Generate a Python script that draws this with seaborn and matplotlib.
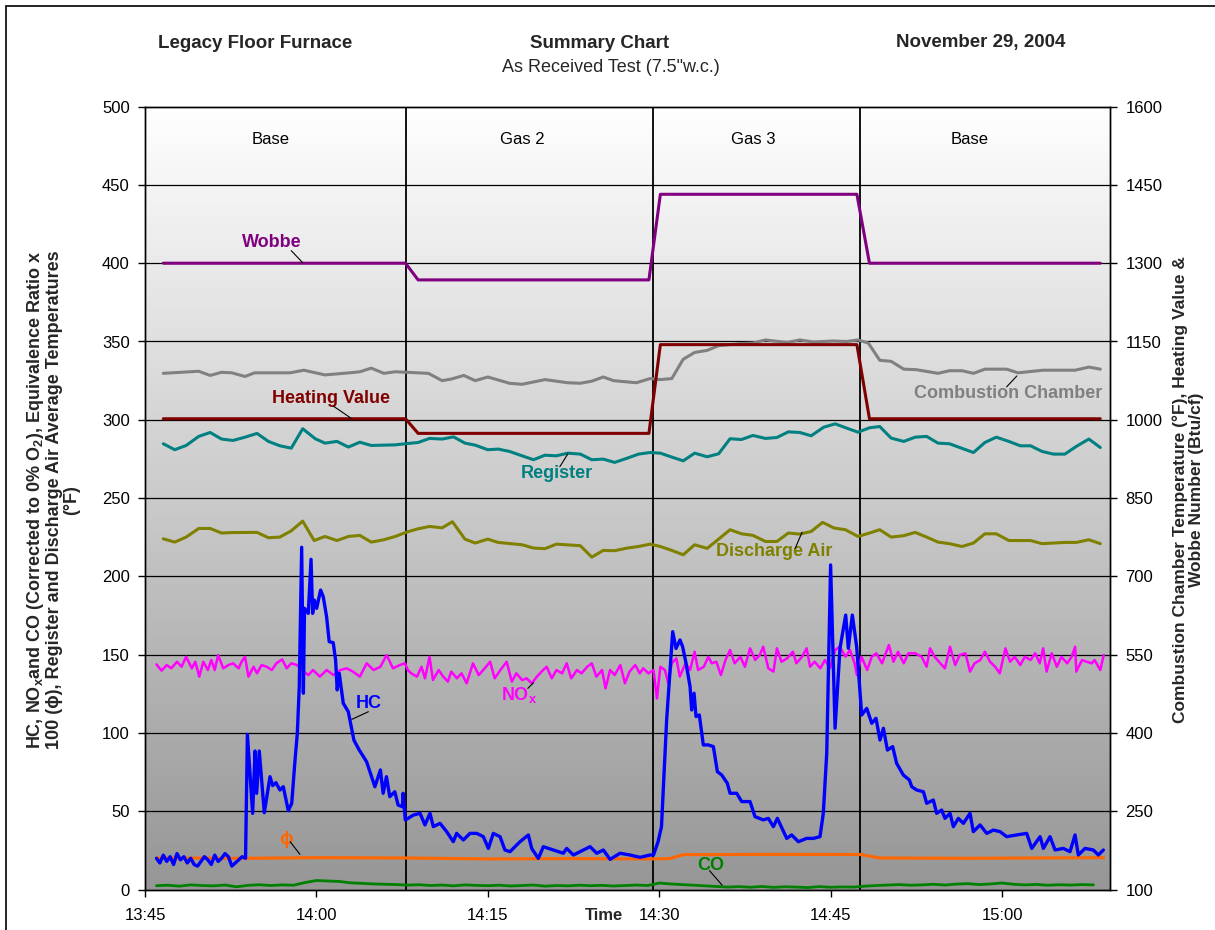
import numpy as np
import pandas as pd
import matplotlib
matplotlib.use('Agg')
import matplotlib.pyplot as plt
from matplotlib.colors import LinearSegmentedColormap
from matplotlib.patches import Rectangle
import seaborn as sns

# time is minutes after 13:45
x_ticks = [0, 15, 30, 45, 60, 75]
x_ticklabels = ['13:45', '14:00', '14:15', '14:30', '14:45', '15:00']
t_end = 84.45
section_changes = [22.8, 44.5, 62.6]
section_names = ['Base', 'Gas 2', 'Gas 3', 'Base']
section_centers = [11.0, 33.0, 53.2, 72.2]

# right axis series (Btu/cf, degF)
step_t = [1.6, 22.8, 23.9, 44.1, 45.1, 62.3, 63.4, 83.6]
wobbe = [1300, 1300, 1268, 1268, 1432, 1432, 1300, 1300]
heating_value = [1002, 1002, 974, 974, 1144, 1144, 1002, 1002]

comb_t = [1.6, 4.7, 5.7, 6.7, 7.6, 8.75, 9.6, 12.7, 13.9, 15.75, 17.9, 18.8, 19.8, 20.9, 21.9,
          22.9, 24.8, 26.0, 26.8, 27.9, 28.9, 30.0, 31.9, 33.0, 35.0, 37.0, 38.1, 39.1, 40.1, 41.0,
          43.0, 44.2, 45.1, 46.1, 47.1, 48.1, 49.2, 50.2, 52.1, 53.2, 54.3, 56.2, 57.3, 58.5, 60.2,
          61.4, 62.4, 63.3, 64.3, 65.3, 66.4, 67.5, 69.4, 70.4, 71.5, 72.5, 73.5, 75.4, 76.4, 78.6,
          81.4, 82.6, 83.6]
combustion = [1089, 1093, 1085, 1091, 1090, 1083, 1090, 1090, 1095, 1086, 1090, 1092, 1099, 1089, 1092,
              1091, 1089, 1075, 1078, 1085, 1075, 1082, 1070, 1068, 1077, 1071, 1070, 1074, 1082, 1075,
              1071, 1079, 1077, 1079, 1116, 1129, 1133, 1142, 1146, 1147, 1153, 1148, 1153, 1149, 1151,
              1150, 1153, 1147, 1114, 1112, 1097, 1096, 1089, 1094, 1094, 1089, 1097, 1097, 1090, 1095,
              1095, 1101, 1097]

# left axis series
reg_t = [1.6, 2.6, 3.6, 4.7, 5.7, 6.7, 7.7, 8.75, 9.8, 10.8, 11.8, 12.8, 13.8, 14.9, 15.75,
         16.8, 17.8, 18.8, 19.8, 21.9, 22.9, 23.9, 24.9, 26.0, 27.0, 28.0, 28.9, 30.0, 30.9, 31.9,
         33.0, 34.0, 35.0, 36.0, 37.0, 38.1, 39.1, 40.1, 41.1, 42.2, 43.2, 44.2, 45.1, 46.1, 47.1,
         48.1, 49.2, 50.2, 51.2, 52.2, 53.2, 54.3, 55.3, 56.3, 57.3, 58.3, 59.4, 60.4, 61.4, 62.4,
         63.4, 64.3, 65.3, 66.4, 67.4, 68.4, 69.4, 70.4, 72.5, 73.5, 74.5, 75.6, 76.6, 77.5, 78.5,
         79.5, 80.5, 81.5, 82.6, 83.6]
register = [284.7, 280.9, 283.6, 289.4, 291.9, 287.7, 286.8, 288.9, 291.3, 286.2, 283.4, 281.9, 294.3, 287.9, 285.1,
            286.2, 282.6, 285.7, 283.6, 284.0, 284.8, 285.5, 288.1, 287.7, 289.1, 285.1, 283.8, 280.9, 281.3, 279.8,
            277.0, 274.5, 277.4, 277.0, 278.7, 278.1, 274.5, 274.9, 272.8, 275.5, 278.1, 279.1, 278.7, 276.2, 273.8,
            278.7, 276.4, 278.3, 287.9, 287.4, 290.0, 288.1, 288.7, 292.3, 291.9, 289.8, 295.3, 297.4, 294.7, 292.1,
            294.9, 295.7, 288.3, 286.2, 288.9, 289.4, 285.1, 284.7, 279.1, 285.5, 288.9, 286.2, 283.4, 283.4, 279.8,
            278.1, 278.1, 283.0, 287.7, 282.3]

dis_t = [1.6, 2.6, 3.6, 4.7, 5.7, 6.7, 7.7, 9.8, 10.8, 11.8, 12.8, 13.8, 14.8, 15.75, 16.8,
         17.8, 18.8, 19.8, 20.9, 21.9, 22.9, 23.9, 24.9, 26.0, 26.9, 28.0, 28.9, 30.0, 30.9, 33.0,
         34.0, 35.0, 36.0, 38.1, 39.1, 40.1, 41.1, 42.2, 43.2, 44.2, 45.1, 46.1, 47.1, 48.1, 49.2,
         50.2, 51.2, 52.2, 53.2, 54.3, 55.3, 56.3, 57.3, 58.3, 59.3, 60.3, 61.3, 62.4, 63.4, 64.3,
         65.3, 66.4, 67.4, 68.4, 69.4, 70.4, 71.5, 72.5, 73.5, 74.5, 75.6, 76.6, 77.5, 78.5, 80.5,
         81.5, 82.6, 83.6]
discharge = [224.0, 221.9, 225.1, 230.6, 230.6, 227.7, 228.0, 228.1, 224.7, 225.1, 229.1, 235.3, 222.9, 225.5, 222.9,
             225.5, 226.2, 221.9, 223.4, 225.5, 228.3, 230.4, 231.9, 231.0, 234.9, 223.8, 221.3, 223.8, 221.7, 220.2,
             218.1, 217.7, 220.6, 219.6, 212.3, 216.6, 216.4, 218.1, 219.1, 220.6, 219.1, 216.6, 213.8, 220.2, 217.9,
             223.8, 229.8, 227.2, 226.2, 222.3, 222.3, 227.7, 227.0, 228.7, 234.5, 230.9, 229.8, 225.5, 227.7, 229.8,
             225.1, 226.0, 228.1, 225.1, 221.9, 220.9, 219.1, 221.3, 227.2, 227.2, 222.9, 222.9, 222.9, 220.9, 221.7,
             221.7, 223.4, 220.9]

nox_t = [1.0, 1.45, 1.9, 2.3, 2.8, 3.2, 3.6, 4.1, 4.4, 4.75, 5.1, 5.5, 5.8, 6.1, 6.4, 6.85, 7.3, 7.7, 8.2, 8.45,
         8.75, 9.05, 9.5, 9.8, 10.2, 10.65, 11.1, 11.5, 12.0, 12.4, 12.8, 13.3, 13.9, 14.3, 14.7, 15.3, 15.9, 16.5,
         17.1, 17.65, 18.2, 18.8, 19.4, 20.0, 20.6, 21.15, 21.7, 22.3, 22.75,
         23.0, 23.3, 23.8, 24.2, 24.5, 24.9, 25.2, 25.7, 26.1, 26.5, 26.8, 27.3, 27.7, 28.15, 28.7, 29.2, 29.6,
         30.2, 30.6, 31.1, 31.65, 32.1, 32.5, 33.0, 33.4, 33.85, 34.3, 34.7, 35.15, 35.6, 36.0, 36.5, 36.9, 37.3,
         37.8, 38.2, 38.7, 39.1, 39.5, 40.0, 40.3, 40.7, 41.1, 41.6, 42.0, 42.4, 42.9, 43.3,
         43.6, 44.05, 44.5, 44.8, 45.1, 45.5, 45.8, 46.1, 46.5, 46.8, 47.3, 47.7, 48.1, 48.4, 48.9, 49.3, 49.6,
         50.0, 50.4, 50.8, 51.2, 51.6, 52.1, 52.5, 52.95, 53.4, 53.8, 54.1, 54.55, 55.0, 55.3, 55.7, 56.2, 56.7,
         57.0, 57.5, 57.9, 58.2, 58.6, 59.1, 59.5, 59.95, 60.4, 60.8, 61.3, 61.7, 62.1, 62.3, 62.7, 63.2, 63.6,
         64.0, 64.5, 65.1, 65.5, 65.9, 66.4, 66.8, 67.4, 67.97, 68.4, 68.7, 69.1, 69.6, 70.0, 70.45, 70.9, 71.3,
         71.8, 72.2, 72.6, 73.1, 73.5, 73.95, 74.4, 74.8, 75.3, 75.7, 76.1, 76.6, 77.0, 77.5, 77.9, 78.3, 78.6,
         78.9, 79.35, 79.8, 80.2, 80.7, 81.1, 81.4, 81.5, 82.0, 82.4, 82.85, 83.1, 83.6, 83.9]
nox = [143.8, 139.8, 143.4, 141.3, 145.5, 142.3, 148.7, 141.3, 145.5, 136.0, 145.5, 140.2, 146.6, 140.2, 149.8,
       141.3, 143.4, 144.5, 141.3, 145.5, 148.7, 136.0, 142.3, 138.1, 143.4, 142.3, 140.2, 144.5, 147.0, 141.3,
       144.5, 143.4, 139.2, 137.0, 140.2, 136.0, 140.2, 137.0, 140.2, 141.3, 139.2, 136.0, 144.5, 140.2, 142.3,
       149.8, 141.3, 143.4, 144.5,
       140.2, 138.1, 136.0, 142.3, 134.9, 148.7, 133.8, 140.2, 136.0, 132.8, 139.2, 134.9, 138.1, 131.7, 144.5,
       137.0, 140.2, 145.5, 134.9, 140.2, 145.5, 132.8, 138.1, 133.8, 134.9, 131.7, 136.0, 139.2, 142.3, 134.9,
       140.2, 138.1, 144.5, 134.9, 140.2, 138.1, 142.3, 144.5, 136.0, 140.2, 128.5, 140.2, 137.0, 143.4, 131.7,
       139.2, 143.4, 138.1,
       141.3, 138.1, 140.2, 122.1, 142.3, 140.2, 131.7, 144.5, 147.7, 136.0, 144.5, 140.2, 151.9, 140.2, 142.3,
       148.7, 144.5, 145.5, 137.0, 146.6, 153.0, 144.5, 148.7, 142.3, 154.1, 146.6, 149.8, 155.1, 141.3, 139.2,
       154.1, 145.5, 147.7, 151.9, 144.5, 148.7, 154.1, 142.3, 145.5, 141.3, 146.6, 141.3, 153.0, 155.1, 148.7,
       153.0, 144.5, 137.0, 148.7, 140.2, 148.7, 150.9, 144.5, 156.2, 145.5, 151.9, 144.5, 150.9, 150.9, 148.7,
       142.3, 154.1, 148.7, 144.5, 141.3, 155.1, 143.4, 149.8, 150.9, 139.2, 144.5, 146.6, 151.9, 145.5, 142.3,
       138.1, 154.1, 145.5, 148.7, 143.4, 148.7, 146.6, 150.9, 144.5, 154.1, 139.2, 150.9, 142.3, 148.7, 144.5,
       148.7, 155.1, 139.2, 146.6, 145.5, 144.5, 146.6, 140.2, 149.8]

hc_t = [1.0, 1.3, 1.6, 1.9, 2.2, 2.5, 2.8, 3.1, 3.4, 3.7, 4.0, 4.3, 4.6, 4.9, 5.2, 5.5, 5.8, 6.1, 6.4, 6.7,
        7.0, 7.3, 7.6, 7.9, 8.2, 8.5, 8.8,
        8.96, 9.42, 9.63, 9.77, 10.0, 10.44, 10.94, 11.17, 11.46, 11.81, 12.1, 12.54, 12.84, 13.13, 13.33,
        13.5, 13.71, 13.86, 13.96, 14.29, 14.53, 14.67, 14.82, 15.02, 15.37, 15.6, 15.89, 16.12, 16.47, 16.68,
        16.82, 17.0, 17.35, 17.79, 18.28, 18.75, 19.39, 20.12, 20.6, 20.84, 21.13, 21.42, 21.86, 22.15, 22.53,
        22.59, 22.78,
        23.48, 24.07, 24.5, 24.94, 25.23, 25.82, 26.4, 26.98, 27.27, 27.86, 28.44, 29.03, 29.61, 30.05, 30.48,
        31.07, 31.5, 31.94, 32.82, 33.55, 33.84, 34.42, 34.86, 35.74, 36.61, 36.9, 37.49, 38.36, 38.95, 39.53,
        40.11, 40.7, 41.57, 42.44, 43.32, 44.2,
        44.5, 44.9, 45.2, 45.65, 46.18, 46.47, 46.82, 47.05, 47.35, 47.7, 47.84, 48.05, 48.22, 48.51, 48.86,
        49.3, 49.74, 50.09, 50.47, 50.96, 51.2, 51.78, 52.22, 52.95, 53.38, 54.11, 54.55, 54.99, 55.34, 56.16,
        56.59, 57.18, 57.9, 58.49, 59.07, 59.36, 59.66, 60.0, 60.39, 60.82, 61.32, 61.55, 61.9, 62.28, 62.72,
        63.16, 63.6, 63.97, 64.32, 64.62, 64.97, 65.43, 65.78, 66.36, 66.89, 67.1, 67.53, 68.12, 68.41, 68.99,
        69.28, 69.72, 70.01, 70.45, 70.74, 71.18, 71.62, 72.2, 72.49, 73.08, 73.66, 74.24, 74.83, 75.41, 76.28,
        77.16, 77.6, 78.33, 78.62, 79.2, 79.64, 80.37, 80.95, 81.39, 81.68, 82.26, 82.99, 83.43, 83.87]
hc = [20, 17, 22, 18, 21, 16, 23, 19, 21, 17, 20, 16, 15, 18, 21, 19, 16, 22, 18, 20,
      23, 21, 15, 17, 19, 21, 20,
      99.1, 48.7, 88.5, 61.5, 88.5, 49.1, 72.1, 66.4, 68.3, 63.6, 65.7, 50.4, 55.1, 82.8, 99.8,
      129.6, 218.6, 125.4, 179.6, 176.4, 210.9, 176.4, 184.9, 179.6, 191.3, 187.0, 174.3, 158.3, 157.7, 146.6,
      127.5, 138.1, 119.0, 113.6, 95.5, 89.1, 81.7, 65.7, 76.4, 61.5, 72.1, 59.3, 62.5, 54.0, 52.9,
      61.5, 44.4,
      47.6, 48.7, 41.3, 48.7, 40.2, 42.3, 37.0, 30.6, 35.9, 31.7, 35.9, 35.9, 33.8, 26.3, 35.9,
      33.8, 25.3, 24.2, 30.6, 34.9, 26.3, 19.9, 27.4, 25.3, 23.2, 26.3, 22.1, 25.3, 27.4, 23.2,
      25.3, 19.3, 23.2, 22.1, 20.6, 22.1,
      22.1, 30.6, 40.2, 108.3, 164.7, 154.0, 159.4, 155.1, 144.5, 129.6, 114.7, 125.4, 110.5, 111.5, 92.4,
      92.4, 91.3, 75.3, 73.2, 67.9, 61.5, 61.5, 56.2, 56.2, 46.6, 44.5, 45.5, 40.2, 45.5, 32.7,
      34.9, 30.6, 32.7, 32.7, 33.8, 48.7, 87.0, 207.3, 103.0, 154.1, 175.3, 154.1, 175.3, 155.1, 111.5,
      115.7, 106.2, 109.4, 95.5, 103.0, 89.1, 91.3, 80.6, 73.2, 70.0, 65.7, 63.6, 62.5, 55.1, 57.2,
      48.7, 50.8, 45.5, 48.7, 40.2, 45.5, 42.3, 48.7, 37.0, 41.3, 35.9, 38.0, 37.0, 33.8, 34.9,
      35.9, 26.3, 33.8, 26.3, 33.8, 25.3, 26.3, 24.2, 34.9, 22.1, 26.3, 25.3, 22.1, 25.3]

phi_t = [1.0, 8.8, 15.0, 22.8, 30.0, 37.0, 44.5, 45.9, 47.1, 55.0, 62.6, 64.3, 72.0, 83.9]
phi = [20.2, 20.0, 20.4, 20.2, 19.6, 19.8, 19.6, 19.8, 22.3, 22.5, 22.4, 20.2, 20.0, 20.4]

co_t = list(range(1, 84))
co = [2.5, 2.8, 2.2, 3.0, 2.6, 2.4, 2.9, 1.8,
      2.7, 3.1, 2.6, 3.0, 2.8,
      4.5, 5.8, 5.5, 5.2, 4.3,
      4.0, 3.6, 3.4, 3.2, 2.9,
      3.1, 2.6, 2.9, 2.4, 3.0, 2.7, 2.5,
      2.8, 2.3, 2.6, 2.9, 2.2, 2.6, 2.4, 2.8, 2.5, 2.7,
      2.3, 2.6, 2.9, 2.6,
      4.2, 3.6, 3.2, 2.8, 2.4, 2.0,
      1.6, 1.9, 1.5, 2.0, 1.4, 1.8, 1.6, 1.3, 1.9, 1.5, 1.7, 1.6,
      2.2, 2.6, 2.9, 3.2, 2.8, 3.0, 3.4, 2.9,
      3.5, 3.8, 3.2, 3.6, 4.2, 3.4, 3.0, 3.3, 2.8, 3.1, 2.9, 3.2, 3.0]

sns.set_theme(style='white')
plt.rcParams['font.family'] = ['Liberation Sans', 'DejaVu Sans']

W, H = 1215, 930
fig = plt.figure(figsize=(W / 100, H / 100), dpi=100)
ax = fig.add_axes([145 / W, 1 - 889.6 / H, 965 / W, 783 / H])
ax2 = ax.twinx()

# grey gradient plot area
grad = np.linspace(0, 1, 256).reshape(-1, 1)
bg = LinearSegmentedColormap.from_list('bg', ['#ffffff', '#969696'])
ax.imshow(grad, extent=[0, t_end, 0, 500], aspect='auto', cmap=bg, origin='upper', zorder=0)

for y in range(50, 500, 50):
    ax.axhline(y, color='black', lw=0.9, zorder=1)
for t in section_changes:
    ax.axvline(t, color='black', lw=1.3, zorder=1)
for name, t in zip(section_names, section_centers):
    ax.text(t, 479, name, ha='center', va='center', fontsize=12, color='black')


def draw(axis, t, v, color, lw=2.2, z=3):
    df = pd.DataFrame({'t': t, 'v': v})
    sns.lineplot(data=df, x='t', y='v', ax=axis, color=color, linewidth=lw,
                 estimator=None, sort=False, zorder=z)


draw(ax, dis_t, discharge, '#808000')
draw(ax, reg_t, register, '#008080')
draw(ax, co_t, co, '#008000', lw=2.0)
draw(ax, phi_t, phi, '#FF6600')
draw(ax, nox_t, nox, '#FF00FF', lw=1.8)
draw(ax, hc_t, hc, '#0000FF', lw=2.4, z=4)

draw(ax2, comb_t, combustion, '#808080')
draw(ax2, step_t, heating_value, '#800000')
draw(ax2, step_t, wobbe, '#800080')

ax.set_xlim(0, t_end)
ax.set_ylim(0, 500)
ax2.set_ylim(100, 1600)
ax.set_xticks(x_ticks)
ax.set_xticklabels(x_ticklabels)
ax.set_yticks(range(0, 501, 50))
ax2.set_yticks(range(100, 1601, 150))
for a in (ax, ax2):
    a.set_xlabel('')
    a.set_ylabel('')
    for s in a.spines.values():
        s.set_color('black')
        s.set_linewidth(1.0)
ax.tick_params(axis='both', which='major', left=True, bottom=True, direction='out',
               length=5, width=1, color='black', labelsize=12, labelcolor='black')
ax.tick_params(axis='x', pad=8)
ax.tick_params(axis='y', pad=6)
ax2.tick_params(axis='y', right=True, direction='out', length=5, width=1, color='black',
                labelsize=12, labelcolor='black', pad=6)


def tag(axis, text, pos, start, end, color):
    axis.text(pos[0], pos[1], text, ha='center', va='center', fontsize=13,
              fontweight='bold', color=color, zorder=6)
    axis.plot([start[0], end[0]], [start[1], end[1]], color='black', lw=0.8, zorder=6)


tag(ax2, 'Wobbe', (11.1, 1340), (12.8, 1324), (13.8, 1301), '#800080')
tag(ax2, 'Heating Value', (16.3, 1040), (16.5, 1026), (18.1, 1002), '#800000')
tag(ax2, 'Combustion Chamber', (75.5, 1050), (75.4, 1063), (76.3, 1084), '#808080')
tag(ax, 'Register', (36.05, 265.4), (36.3, 270.0), (37.0, 278.2), '#008080')
tag(ax, 'Discharge Air', (55.1, 215.8), (56.9, 217.9), (57.5, 228.2), '#808000')
tag(ax, r'NO$_{\mathregular{x}}$', (32.7, 124.3), (33.5, 128.5), (34.0, 132.1), '#FF00FF')
tag(ax, 'HC', (19.6, 119.0), (19.55, 113.6), (18.1, 108.7), '#0000FF')
tag(ax, '\u03d5', (12.34, 32.1), (12.7, 30.6), (13.56, 22.5), '#FF6600')
tag(ax, 'CO', (49.5, 15.7), (49.4, 12.1), (50.5, 2.9), '#008000')

# titles
fig.text(255 / W, 1 - 43 / H, 'Legacy Floor Furnace', ha='center', va='center',
         fontsize=13.5, fontweight='bold')
fig.text(600 / W, 1 - 43 / H, 'Summary Chart', ha='center', va='center',
         fontsize=13.5, fontweight='bold')
fig.text(611 / W, 1 - 68 / H, 'As Received Test (7.5"w.c.)', ha='center', va='center',
         fontsize=13)
fig.text(981 / W, 1 - 43 / H, 'November 29, 2004', ha='center', va='center',
         fontsize=13.5, fontweight='bold')
fig.text(604 / W, 1 - 915 / H, 'Time', ha='center', va='center', fontsize=12, fontweight='bold')

left_label = ('HC, NO$_{\\mathregular{x}}$and CO (Corrected to 0% O$_{\\mathregular{2}}$), Equivalence Ratio x\n'
              '100 (\u03d5), Register and Discharge Air Average Temperatures\n(\u00b0F)')
fig.text(53 / W, 1 - 500 / H, left_label, rotation=90, ha='center', va='center',
         multialignment='center', fontsize=13, fontweight='bold', linespacing=1.0)
right_label = 'Combustion Chamber Temperature (\u00b0F), Heating Value &\nWobbe Number (Btu/cf)'
fig.text(1188 / W, 1 - 490 / H, right_label, rotation=90, ha='center', va='center',
         multialignment='center', fontsize=12.5, fontweight='bold', linespacing=1.05)

fig.add_artist(Rectangle((6 / W, -0.05), 1.2, 1.05 - 6 / H, transform=fig.transFigure,
                         fill=False, edgecolor='black', lw=1.2))

fig.savefig('out.png', dpi=100)
